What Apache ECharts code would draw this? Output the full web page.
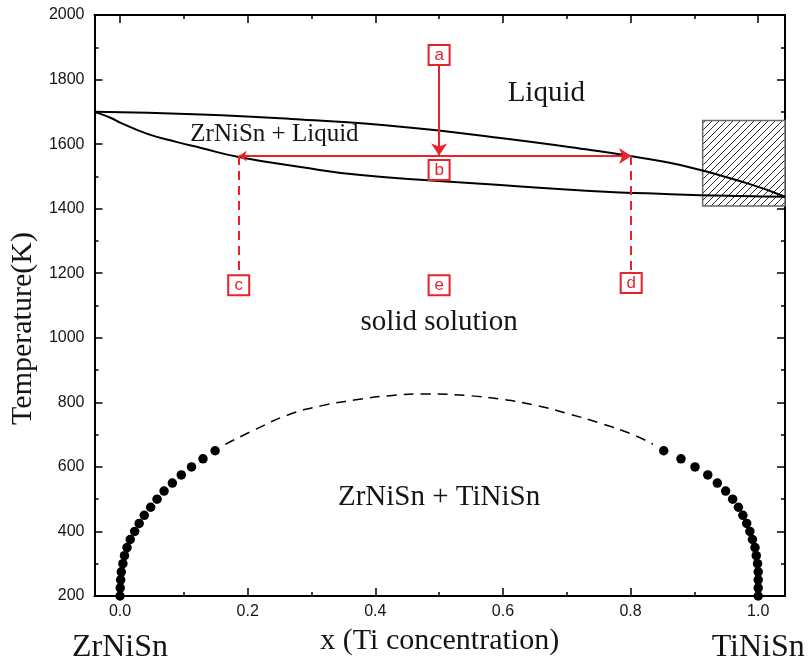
<!DOCTYPE html>
<html>
<head>
<meta charset="utf-8">
<script src="https://cdn.jsdelivr.net/npm/echarts@6/dist/echarts.min.js"></script>
<style>
html,body{margin:0;padding:0;background:#fff;}
#chart{width:811px;height:666px;}
</style>
</head>
<body>
<div id="chart"></div>
<script>
// ---- data ----
const xMajorTicks = [0, 0.2, 0.4, 0.6, 0.8, 1.0];
const xMinorTicks = [0.1, 0.3, 0.5, 0.7, 0.9];
const endMembers = ['ZrNiSn', 'TiNiSn'];
const endMemberX = [0, 1];

const liquidusX = [-0.04, 0.127, 0.283, 0.44, 0.596, 0.737, 0.8, 0.878, 0.982, 1.042];
const liquidusT = [1700, 1692, 1676, 1654, 1619, 1582, 1563, 1535, 1479, 1437];

const solidusX = [-0.04, -0.014, 0.002, 0.044, 0.088, 0.127, 0.186, 0.283, 0.377, 0.499, 0.596, 0.737, 0.862, 0.972, 1.042];
const solidusT = [1700, 1681, 1665, 1631, 1607, 1588, 1560, 1529, 1504, 1486, 1473, 1455, 1445, 1439, 1437];

const domeX = [0.165, 0.210, 0.263, 0.315, 0.367, 0.419, 0.482, 0.544, 0.596, 0.648, 0.700, 0.753, 0.805, 0.835];
const domeT = [670, 714, 761, 789, 807, 820, 826, 821, 810, 792, 766, 735, 699, 670];

const dotsT = [650, 625, 600, 575, 550, 525, 500, 475, 450, 425, 400, 375, 350, 325, 300, 275, 250, 225, 200];
const dotsLeftX = [0.149, 0.130, 0.112, 0.096, 0.082, 0.069, 0.058, 0.048, 0.038, 0.030, 0.023, 0.016, 0.011, 0.007, 0.0045, 0.002, 0.001, 0.0003, 0.0];
const dotsRightX = [0.852, 0.879, 0.901, 0.921, 0.936, 0.949, 0.960, 0.969, 0.976, 0.982, 0.987, 0.991, 0.995, 0.997, 0.999, 1.0, 1.0, 1.0, 1.0];

const regionText = ['Liquid', 'ZrNiSn + Liquid', 'solid solution', 'ZrNiSn + TiNiSn'];
const regionX = [0.668, 0.242, 0.5, 0.5];
const regionT = [1758, 1630, 1049, 504];

const boxLetters = ['a', 'b', 'c', 'd', 'e'];
const boxX = [0.5, 0.5, 0.186, 0.801, 0.5];
const boxT = [1876, 1520, 1163, 1170, 1163];

const tieLineX = [0.186, 0.801];
const tieLineT = 1563;
const arrowA = [1845, 1565];         // vertical arrow from box a, start/end T
const dashEndT = [1198, 1205];       // dashed drops to boxes c and d

const hatchX = [0.913, 1.042];
const hatchT = [1408, 1673];

// ---- styles ----
const RED = '#e8232b';
const SERIF = 'Liberation Serif';
const SANS = 'Liberation Sans';
const INK = '#151515';

function zip(xs, ys) { return xs.map((x, i) => [x, ys[i]]); }

// hatch pattern
const pat = document.createElement('canvas');
pat.width = 7; pat.height = 7;
(function () {
  const c = pat.getContext('2d');
  c.fillStyle = '#fff'; c.fillRect(0, 0, 7, 7);
  c.strokeStyle = '#2a2a2a'; c.lineWidth = 1;
  c.beginPath();
  c.moveTo(-1, 8); c.lineTo(8, -1);
  c.moveTo(-1, 1); c.lineTo(1, -1);
  c.moveTo(6, 8); c.lineTo(8, 6);
  c.stroke();
})();

const xMin = -0.04, xMax = 1.042;

function xAx(pos, ticks, len, showLine, extra) {
  return Object.assign({
    type: 'value', position: pos, min: xMin, max: xMax,
    axisLine: { show: showLine, onZero: false, lineStyle: { color: '#000', width: 2 } },
    axisTick: { show: true, inside: true, length: len, customValues: ticks, lineStyle: { color: '#000', width: 1.5 } },
    axisLabel: { show: false },
    splitLine: { show: false }
  }, extra || {});
}

function yAx(pos, extra) {
  return Object.assign({
    type: 'value', position: pos, min: 200, max: 2000, interval: 200,
    axisLine: { show: true, onZero: false, lineStyle: { color: '#000', width: 2 } },
    axisTick: { show: true, inside: true, length: 8, lineStyle: { color: '#000', width: 1.5 } },
    minorTick: { show: true, splitNumber: 2, length: 4, lineStyle: { color: '#000', width: 1.5 } },
    axisLabel: { show: false },
    splitLine: { show: false }
  }, extra || {});
}

const chart = echarts.init(document.getElementById('chart'), null, { renderer: 'canvas' });

const option = {
  animation: false,
  backgroundColor: '#fff',
  grid: { left: 93, right: 26, top: 15, bottom: 70, containLabel: false },
  xAxis: [
    xAx('bottom', xMajorTicks, 8, true, {
      axisLabel: { show: true, customValues: xMajorTicks, formatter: v => v.toFixed(1), fontFamily: SANS, fontSize: 16, color: INK, margin: 8 },
      name: 'x (Ti concentration)', nameLocation: 'middle', nameGap: 30,
      nameTextStyle: { fontFamily: SERIF, fontSize: 30, color: INK }
    }),
    xAx('bottom', xMinorTicks, 4, false),
    xAx('top', xMajorTicks, 8, true),
    xAx('top', xMinorTicks, 4, false),
    {
      type: 'value', position: 'bottom', min: xMin, max: xMax,
      axisLine: { show: false }, axisTick: { show: false }, splitLine: { show: false },
      axisLabel: { show: true, customValues: endMemberX, formatter: v => endMembers[endMemberX.indexOf(v)],
        fontFamily: SERIF, fontSize: 32, color: INK, margin: 36 }
    }
  ],
  yAxis: [
    yAx('left', {
      axisLabel: { show: true, formatter: v => String(v), fontFamily: SANS, fontSize: 16, color: INK, margin: 10 },
      name: 'Temperature(K)', nameLocation: 'middle', nameGap: 47,
      nameTextStyle: { fontFamily: SERIF, fontSize: 30, color: INK, padding: [0, 46, 0, 0] }
    }),
    yAx('right')
  ],
  series: [
    {
      type: 'line', data: [], z: 1, silent: true,
      markArea: {
        silent: true,
        itemStyle: { color: { image: pat, repeat: 'repeat' }, borderColor: '#6a6a6a', borderWidth: 1.5, opacity: 1 },
        data: [[{ coord: [hatchX[0], hatchT[0]] }, { coord: [hatchX[1], hatchT[1]] }]]
      }
    },
    {
      type: 'line', data: zip(liquidusX, liquidusT), z: 3, showSymbol: false,
      smooth: 0.5,
      lineStyle: { color: '#000', width: 2 }
    },
    {
      type: 'line', data: zip(solidusX, solidusT), z: 3, showSymbol: false,
      smooth: 0.5,
      lineStyle: { color: '#000', width: 2 }
    },
    {
      type: 'line', data: zip(domeX, domeT), z: 3, showSymbol: false,
      smooth: 0.5,
      lineStyle: { color: '#000', width: 1.5, type: [10, 7] }
    },
    {
      type: 'scatter', data: zip(dotsLeftX, dotsT).concat(zip(dotsRightX, dotsT)), z: 4,
      symbol: 'circle', symbolSize: 9.5, itemStyle: { color: '#000', opacity: 1 }, clip: true
    },
    {
      type: 'lines', coordinateSystem: 'cartesian2d', z: 5,
      symbol: ['none', 'arrow'], symbolSize: [8, 12],
      lineStyle: { color: RED, width: 2, opacity: 1 },
      data: [{ coords: [[boxX[0], arrowA[0]], [boxX[0], arrowA[1]]] }]
    },
    {
      type: 'lines', coordinateSystem: 'cartesian2d', z: 5,
      symbol: ['arrow', 'arrow'], symbolSize: [8, 12],
      lineStyle: { color: RED, width: 2, opacity: 1 },
      data: [{ coords: [[tieLineX[0], tieLineT], [tieLineX[1], tieLineT]] }]
    },
    {
      type: 'lines', coordinateSystem: 'cartesian2d', z: 5,
      symbol: ['none', 'none'],
      lineStyle: { color: RED, width: 2, opacity: 1, type: [9, 6] },
      data: tieLineX.map((x, i) => ({ coords: [[x, tieLineT], [x, dashEndT[i]]] }))
    },
    {
      type: 'scatter', z: 6, symbol: 'rect', symbolSize: [21, 20],
      itemStyle: { color: '#fff', borderColor: RED, borderWidth: 2, opacity: 1 },
      label: { show: true, position: 'inside', formatter: p => p.value[2], fontFamily: SANS, fontSize: 17, color: RED },
      data: boxX.map((x, i) => [x, boxT[i], boxLetters[i]])
    },
    {
      type: 'scatter', z: 6, symbolSize: 0, silent: true,
      itemStyle: { opacity: 1 },
      label: { show: true, position: 'inside', formatter: p => p.value[2], fontFamily: SERIF, fontSize: 29, color: INK, opacity: 1 },
      data: regionText.map((t, i) => {
        const item = { value: [regionX[i], regionT[i], t] };
        if (i === 1) item.label = { fontSize: 25 };
        return item;
      })
    }
  ]
};
chart.setOption(option);
</script>
</body>
</html>
